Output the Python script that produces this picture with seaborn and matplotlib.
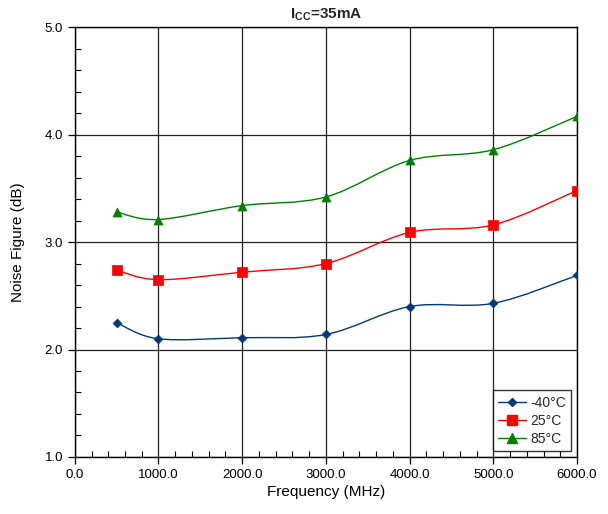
import numpy as np
import pandas as pd
import matplotlib
matplotlib.use("Agg")
import matplotlib.pyplot as plt
import seaborn as sns
from matplotlib.path import Path
from matplotlib.patches import PathPatch
from matplotlib.lines import Line2D
from matplotlib.ticker import MultipleLocator, FormatStrFormatter

# -------------------- DATA ---------------------------
freq = [500, 1000, 2000, 3000, 4000, 5000, 6000]
nf_m40 = [2.25, 2.10, 2.11, 2.14, 2.40, 2.43, 2.69]
nf_25 = [2.74, 2.65, 2.72, 2.80, 3.09, 3.16, 3.48]
nf_85 = [3.28, 3.21, 3.34, 3.42, 3.76, 3.86, 4.17]

series_names = ["-40°C", "25°C", "85°C"]
colors = ["#003a75", "#ff0000", "#008000"]
markers = ["D", "s", "^"]
msizes = [4.5, 6.5, 6.5]

df = pd.DataFrame({
    "freq": freq * 3,
    "nf": nf_m40 + nf_25 + nf_85,
    "temp": [n for n in series_names for _ in freq],
})

# -------------------- STYLE ---------------------------
sns.set_theme(style="white")
plt.rcParams["font.family"] = ["Liberation Sans", "DejaVu Sans"]
plt.rcParams["mathtext.fontset"] = "custom"
plt.rcParams["mathtext.rm"] = "Liberation Sans"
plt.rcParams["mathtext.bf"] = "Liberation Sans:bold"

fig = plt.figure(figsize=(6.08, 5.14), dpi=100)
ax = fig.add_axes([0.123, 0.111, 0.826, 0.836])


def smooth_path(xs, ys):
    # Excel-style smoothed line: Catmull-Rom segments as cubic Bezier curves
    pts = np.column_stack([xs, ys]).astype(float)
    n = len(pts)
    verts = [pts[0]]
    codes = [Path.MOVETO]
    for i in range(n - 1):
        p0 = pts[max(i - 1, 0)]
        p1 = pts[i]
        p2 = pts[i + 1]
        p3 = pts[min(i + 2, n - 1)]
        c1 = p1 + (p2 - p0) / 6.0
        c2 = p2 - (p3 - p1) / 6.0
        verts += [c1, c2, p2]
        codes += [Path.CURVE4] * 3
    return Path(verts, codes)


handles = []
for name, col, mk, ms in zip(series_names, colors, markers, msizes):
    sub = df[df["temp"] == name]
    ax.add_patch(PathPatch(smooth_path(sub["freq"], sub["nf"]),
                           facecolor="none", edgecolor=col, lw=1.0, zorder=3))
    sns.scatterplot(data=sub, x="freq", y="nf", ax=ax, color=col, marker=mk,
                    s=ms ** 2, edgecolor=col, linewidth=0.5, zorder=4, legend=False)
    handles.append(Line2D([], [], color=col, lw=1.0, marker=mk, markersize=ms,
                          markeredgecolor=col))

ax.set_xlim(0, 6000)
ax.set_ylim(1.0, 5.0)
ax.xaxis.set_major_locator(MultipleLocator(1000))
ax.xaxis.set_minor_locator(MultipleLocator(200))
ax.yaxis.set_major_locator(MultipleLocator(1.0))
ax.yaxis.set_minor_locator(MultipleLocator(0.2))
ax.xaxis.set_major_formatter(FormatStrFormatter("%.1f"))
ax.yaxis.set_major_formatter(FormatStrFormatter("%.1f"))

ax.grid(True, which="major", color="#222222", lw=0.9)
ax.tick_params(which="major", direction="out", length=5, width=0.9,
               colors="black", labelsize=9.5, bottom=True, left=True)
ax.tick_params(which="minor", direction="in", length=4, width=0.8,
               colors="black", bottom=True, left=True)
for sp in ax.spines.values():
    sp.set_color("black")
    sp.set_linewidth(1.0)

ax.set_xlabel("Frequency (MHz)", fontsize=11, color="black", labelpad=3)
ax.set_ylabel("Noise Figure (dB)", fontsize=11, color="black", labelpad=14)
ax.set_title(r"$\mathbf{I_{CC}}$=35mA", fontsize=11, fontweight="bold", pad=6)

leg = ax.legend(handles, series_names, loc="lower right", fontsize=10,
                frameon=True, fancybox=False, edgecolor="black",
                borderaxespad=0.4, handlelength=2.0, handletextpad=0.3,
                labelspacing=0.3, borderpad=0.4)
leg.get_frame().set_linewidth(1.0)

plt.savefig("out.png", dpi=100)
